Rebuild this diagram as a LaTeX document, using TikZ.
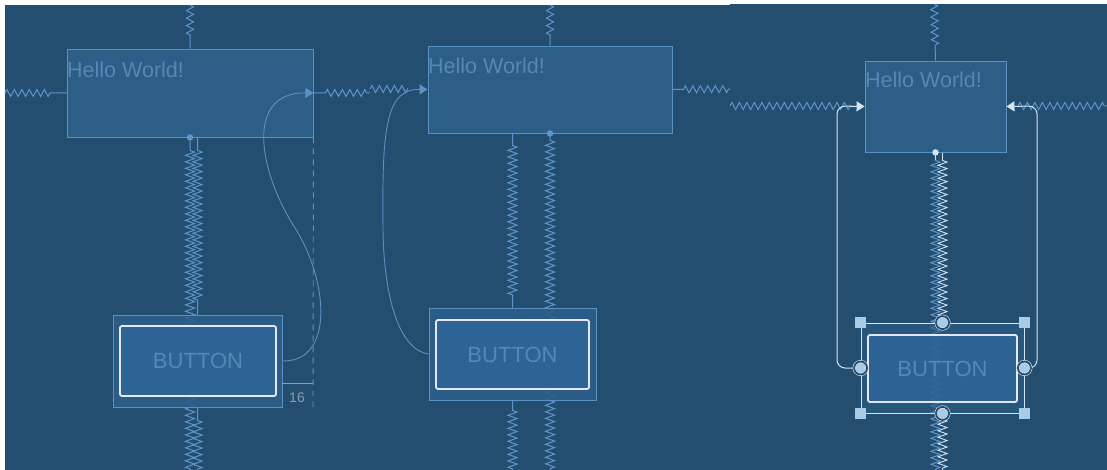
\documentclass[tikz,border=0pt]{standalone}
\usepackage{fontspec}
\setmainfont{Liberation Sans}
\usetikzlibrary{decorations.pathmorphing,arrows.meta}

\definecolor{bg}{HTML}{244E70}
\definecolor{boxfill}{HTML}{2C5E88}
\definecolor{boxline}{HTML}{5A90C4}
\definecolor{springc}{HTML}{5E95CA}
\definecolor{txt}{HTML}{5687B6}
\definecolor{btnfill}{HTML}{2F6698}
\definecolor{btnline}{HTML}{E4E8F4}
\definecolor{selc}{HTML}{D3E4F3}
\definecolor{handlec}{HTML}{A8CBE8}
\definecolor{hring}{HTML}{2C4B67}
\definecolor{dimc}{HTML}{8B9CB3}

\pgfdeclarelayer{bgl}
\pgfdeclarelayer{back}
\pgfsetlayers{bgl,back,main}

\tikzset{
  spring/.style 2 args={draw=springc, line width=1pt, decorate,
    decoration={zigzag, segment length=7.5pt, amplitude=3.5pt, pre length=#1, post length=#2}},
  dspring/.style 2 args={draw=springc, line width=1pt, decorate,
    decoration={zigzag, segment length=6.5pt, amplitude=4.5pt, pre length=#1, post length=#2}},
  wspring/.style 2 args={draw=selc, line width=0.9pt, decorate,
    decoration={zigzag, segment length=6.5pt, amplitude=4.5pt, pre length=#1, post length=#2}},
  hbox/.style={draw=boxline, fill=boxfill, line width=0.9pt, inner sep=0pt},
  outerbtn/.style={draw=boxline, fill=boxfill, fill opacity=0.88, line width=0.9pt, inner sep=0pt},
  innerbtn/.style={draw=btnline, fill=btnfill, fill opacity=0.85, text opacity=1, line width=1.8pt,
    rounded corners=2pt, inner sep=0pt, text=txt, font=\fontsize{22}{24}\selectfont},
  htext/.style={inner sep=0pt, text=txt, font=\fontsize{21.5}{24}\selectfont},
  curve/.style={draw=boxline, line width=0.9pt},
  selline/.style={draw=selc, line width=1pt, rounded corners=8pt},
  dot/.style={circle, fill=#1, inner sep=0pt, minimum size=6.5pt},
  handle/.style={circle, minimum size=13pt, inner sep=0pt, fill=handlec,
    draw=selc, line width=0.6pt, double=hring, double distance=1.8pt},
  corner/.style={rectangle, minimum size=11pt, inner sep=0pt, fill=handlec},
}

\begin{document}
\begin{tikzpicture}[x=1pt,y=-1pt]
\useasboundingbox (0,0) rectangle (1107,470);

% ---------- widgets ----------
\node[hbox, minimum width=246pt, minimum height=88pt] (h1) at (190,93) {};
\node[hbox, minimum width=244pt, minimum height=87pt] (h2) at (550,89.5) {};
\node[hbox, minimum width=141pt, minimum height=91pt] (h3) at (935.5,106.5) {};

\node[outerbtn, minimum width=169pt, minimum height=92pt] (b1) at (197.5,361) {};
\node[innerbtn, minimum width=156pt, minimum height=70pt] (b1i) at (198,361) {BUTTON};
\node[outerbtn, minimum width=167pt, minimum height=92pt] (b2) at (512.5,354) {};
\node[innerbtn, minimum width=153pt, minimum height=69pt] (b2i) at (512.5,354.5) {BUTTON};
\node[outerbtn, fill opacity=0.6, draw=selc, line width=0.8pt, minimum width=163pt, minimum height=90pt] (b3) at (942.5,368) {};
\node[innerbtn, minimum width=149pt, minimum height=67pt] (b3i) at (942.5,368.5) {BUTTON};

\node[htext, anchor=base west] (t1) at (67,78) {Hello World!};
\node[htext, anchor=base west] (t2) at (428,74) {Hello World!};
\node[htext, anchor=base west] (t3) at (865,88) {Hello World!};

% free spring ends
\coordinate (p1top) at (190,5);
\coordinate (p1left) at (5,93);
\coordinate (p1right) at (370,93);
\coordinate (p1bot) at (190,470);
\coordinate (p2top) at (550,5);
\coordinate (p2la) at (370,89);
\coordinate (p2lb) at (408,89);
\coordinate (p2right) at (730,89);
\coordinate (p2bot) at (550,470);
\coordinate (p3top) at (934,4);
\coordinate (p3la) at (730,106);
\coordinate (p3lb) at (852,106);
\coordinate (p3ra) at (1018,106);
\coordinate (p3rb) at (1107,106);
\coordinate (p3bot) at (935.5,470);

\begin{pgfonlayer}{bgl}
  \fill[white] (0,0) rectangle (1107,470);
  \fill[bg] (5,5) rectangle (730,470);
  \fill[bg] (730,4) rectangle (1107,470);
\end{pgfonlayer}

\begin{pgfonlayer}{back}
  % springs, left layout
  \draw[spring={0pt}{11pt}] (p1top) -- (h1.north);
  \draw[spring={0pt}{14pt}] (p1left) -- (h1.west);
  \draw[spring={12pt}{0pt}] (h1.east) -- (p1right);
  \draw[dspring={13pt}{0pt}] (h1.south) -- (p1bot);
  \draw[dspring={13pt}{13pt}] (h1.south -| b1.north) -- (b1.north);
  \draw[dspring={13pt}{0pt}] (b1.south) -- (b1.south |- p1bot);
  % springs, middle layout
  \draw[spring={0pt}{9pt}] (p2top) -- (h2.north);
  \draw[spring={0pt}{0pt}] (p2la) -- (p2lb);
  \draw[spring={11pt}{0pt}] (h2.east) -- (p2right);
  \draw[dspring={12pt}{11pt}] (h2.south -| b2.north) -- (b2.north);
  \draw[dspring={7pt}{0pt}] (h2.south) -- (p2bot);
  \draw[dspring={10pt}{0pt}] (b2.south) -- (b2.south |- p2bot);
  % springs, right layout
  \draw[spring={0pt}{13pt}] (p3top) -- (h3.north);
  \draw[spring={0pt}{0pt}] (p3la) -- (p3lb);
  \draw[spring={0pt}{0pt}] (p3ra) -- (p3rb);
  \draw[dspring={8pt}{0pt}] (h3.south) -- (p3bot);
  \draw[wspring={8pt}{6pt}] (h3.south -| b3.north) -- (b3.north);
  \draw[wspring={6pt}{0pt}] (b3.south) -- (b3.south |- p3bot);
  \draw[selc, line width=0.9pt] (h3.south) -- ++(0,8);
  \draw[selc, line width=0.9pt] (h3.south -| b3.north) -- ++(0,8);
\end{pgfonlayer}

% ---------- left layout: curved constraint and margin ----------
\coordinate (c1) at (295,228);
\draw[curve, -{Triangle[length=8pt,width=10pt]}]
  (b1.east) .. controls (335,362) and (328,280) .. (c1)
            .. controls (258,170) and (245,92) .. (h1.east);
\coordinate (d1) at (313,412);
\draw[boxline, line width=0.9pt, dash pattern=on 6pt off 5pt] (h1.south east) -- (d1);
\coordinate (m1) at (313,383);
\draw[dimc, line width=0.9pt] (b1.east |- m1) -- (m1);
\node[inner sep=0pt, text=dimc, font=\fontsize{14}{16}\selectfont] (n16) at (297,398) {16};
\node[dot=springc] (k1) at (h1.south) {};

% ---------- middle layout ----------
\coordinate (c2) at (383,230);
\draw[curve, -{Triangle[length=8pt,width=10pt]}]
  (b2.west) .. controls (400,350) and (384,300) .. (c2)
            .. controls (382,130) and (385,89) .. (h2.west);
\node[dot=springc] (k2) at (h2.south) {};

% ---------- right layout: selected button ----------
\draw[selline, -{Triangle[length=8pt,width=10pt]}] (b3.west) -| (837,106) -- (h3.west);
\draw[selline, -{Triangle[length=8pt,width=10pt]}] (b3.east) -| (1037,106) -- (h3.east);
\node[dot=selc] (k3) at (h3.south) {};
\node[corner] (q1) at (b3.north west) {};
\node[corner] (q2) at (b3.north east) {};
\node[corner] (q3) at (b3.south west) {};
\node[corner] (q4) at (b3.south east) {};
\node[handle] (g1) at (b3.north) {};
\node[handle] (g2) at (b3.south) {};
\node[handle] (g3) at (b3.west) {};
\node[handle] (g4) at (b3.east) {};
\end{tikzpicture}
\end{document}
